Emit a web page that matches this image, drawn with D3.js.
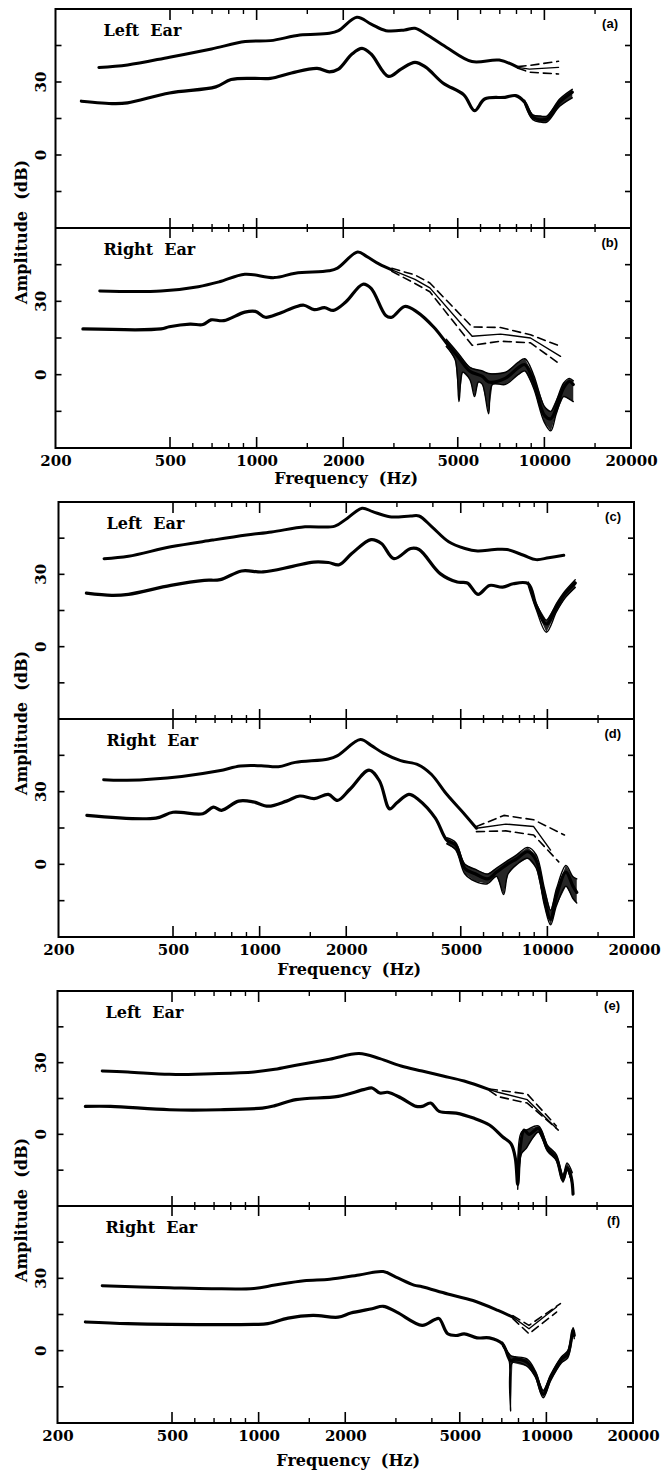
<!DOCTYPE html>
<html><head><meta charset="utf-8">
<script src="https://cdn.jsdelivr.net/npm/d3@7"></script>
<style>body{margin:0;background:#fff} svg{display:block} text{white-space:pre}</style>
</head><body><svg id="c" width="661" height="1473"></svg>
<script>
// ---------- axis values ----------
const xLabelTicks = [200, 500, 1000, 2000, 5000, 10000, 20000];
const xMajorTicks = [500, 1000, 2000, 5000, 10000];
const xMinorTicks = [600, 700, 800, 900, 1500, 3000, 4000, 6000, 7000, 8000, 9000, 15000];
const yTicks = [45, 30, 15, 0, -15];
const yLabelTicks = [30, 0];
const yDomain = [-30, 60];
const panelTags = ['(a)', '(b)', '(c)', '(d)', '(e)', '(f)'];
const earNames = ['Left  Ear', 'Right  Ear', 'Left  Ear', 'Right  Ear', 'Left  Ear', 'Right  Ear'];
const xTitle = 'Frequency  (Hz)';
const yTitle = 'Amplitude  (dB)';

// ---------- series: [frequency Hz, amplitude dB] ----------
// (a)
const a_upper = [[283,36],[356,37],[498,40.2],[697,43.6],[913,46.6],[1117,47],[1414,49.3],[1790,50],[1925,51.1],[2230,56.6],[2500,53.8],[2815,51.1],[3270,51.4],[3550,52.1],[3870,49.7],[4560,44.3],[5600,38.4],[6970,39],[8100,36]];
const a_upperMean = [[8100,36],[8870,35.3],[11200,36]];
const a_upperHi = [[8100,36.3],[8870,36.8],[11200,38.5]];
const a_upperLo = [[8100,35.7],[8870,34],[11200,33.3]];
const a_lower = [[246,22.1],[320,21.1],[356,21.4],[498,25.5],[721,28],[815,31],[978,31.5],[1117,31.5],[1322,33.7],[1623,35.6],[1790,34.2],[1925,35.3],[2145,41.5],[2324,43.8],[2500,41.5],[2870,32.3],[3175,35.3],[3550,38.1],[3870,36.1],[4440,29.6],[5250,24.7],[5720,18.2],[6200,23],[7300,23.7],[7950,24.4],[8540,21.7],[9120,15.5],[10200,14.8],[11300,21.7],[12500,25.8]];
const a_lowerHi = [[8540,22.5],[9120,16.5],[9700,16],[10200,16],[11300,23],[12500,27]];
const a_lowerLo = [[8540,21],[9120,14.5],[9700,13.5],[10200,13.5],[11300,20],[12500,23.5]];
// (b)
const b_upper = [[285,34.2],[465,34.2],[627,36],[743,38],[910,41.1],[1151,39.7],[1362,41.5],[1783,42.5],[1910,43.6],[2243,50.2],[2410,48.4],[2670,45.2],[2950,42.9]];
const b_upperMean = [[2950,42.9],[3550,39],[4000,35.5],[5610,15.7],[7040,16.6],[8950,15],[11380,7.5]];
const b_upperHi = [[2950,43.5],[3550,40.8],[4000,37.5],[5610,19.5],[7040,19.3],[8950,16.3],[11380,11.6]];
const b_upperLo = [[2950,42.3],[3550,37.3],[4000,33.9],[5610,12],[7040,13.7],[8950,13],[11380,4.1]];
const b_lower = [[249,18.7],[465,18.7],[497,19.6],[587,20.7],[651,20.5],[694,22.4],[769,22.1],[910,25.6],[990,25.9],[1072,23.5],[1190,24.9],[1362,27.7],[1460,28.4],[1585,26.6],[1720,27.4],[1850,26.3],[2040,29.7],[2340,37],[2500,35.3],[2810,24.2],[2950,23.5],[3270,27.9],[3615,25.6],[4130,19.4],[4560,13.1],[5040,6.9],[5510,1.4],[6090,-0.7],[6400,-3],[7330,-1.4],[8100,2.8],[8560,4.1],[9170,-2.8],[10000,-16.6],[10530,-18],[11650,-5.5],[12200,-2.8],[12600,-4]];
const b_lowerHi = [[4560,14.5],[5040,8.5],[5510,3],[6090,1.5],[6400,0.5],[7330,1],[8100,5],[8560,6.5],[9170,0],[10000,-13],[10530,-15],[11650,-3.5],[12200,-1.5],[12600,-2.5]];
const b_lowerLo = [[4560,11.5],[4900,6],[5050,-11],[5200,1],[5510,-2],[5720,-9],[5900,-3],[6090,-4],[6400,-16],[6600,-4],[7330,-4],[8100,0],[8560,1.5],[9170,-5.5],[10000,-19.5],[10530,-23],[11000,-16],[11650,-9],[12200,-10],[12600,-11]];
// (c)
const c_upper = [[288,36.5],[350,37.5],[491,41.4],[687,44.2],[900,46.3],[1101,47.6],[1438,49.7],[1826,50],[2013,53.2],[2270,57.4],[2470,56],[2830,53.9],[3350,54.2],[3580,54.2],[3970,49.7],[4540,43.5],[5170,40.7],[5720,39.7],[6550,40.3],[7240,40.3],[8270,37.9],[9140,36.1],[10100,36.9],[11400,37.9]];
const c_lower = [[250,22.2],[306,21.3],[350,21.7],[491,25.4],[642,27.5],[730,27.8],[866,31.4],[1028,31],[1301,33.3],[1541,35.1],[1733,34.9],[1890,34],[2090,38.6],[2440,44.4],[2650,42.8],[2930,36.5],[3350,40.7],[3580,40.3],[4240,30.3],[4860,26.8],[5270,26.4],[5740,21.7],[6290,25.4],[6990,24.7],[7610,26.1],[8580,26.1],[9140,17.1],[9920,9.4],[10760,16.4],[11500,21.9],[12500,26.4]];
const c_lowerHi = [[8580,26.8],[9140,18],[9920,11],[10760,18],[11500,23],[12500,27.8]];
const c_lowerLo = [[8580,25.3],[9140,15.5],[9920,6],[10760,14.5],[11500,20],[12500,24.5]];
// (d)
const d_upper = [[287,34.9],[346,34.7],[536,36.3],[723,38.6],[857,40.6],[1013,40.7],[1162,40.3],[1330,42.1],[1733,43.5],[1866,44.9],[2240,51.5],[2440,49.1],[2690,45.9],[3090,42.8],[3560,41.1],[3950,37.2],[4470,28.9],[5170,20.5],[5670,14.9]];
const d_upperMean = [[5670,14.9],[7170,16.6],[8960,15.6],[10260,5.9]];
const d_upperHi = [[5670,15.6],[7060,20.2],[8960,18.4],[11460,12.1]];
const d_upperLo = [[5670,13.5],[7170,13.8],[8960,12.1],[10950,1]];
const d_lower = [[251,20.2],[436,19.1],[500,21.5],[635,20.9],[690,23.6],[737,22.3],[845,26.1],[950,25.8],[1072,24],[1240,26.1],[1379,28.2],[1548,27.1],[1733,28.9],[1866,26.4],[2060,31],[2400,38.9],[2610,34.4],[2830,22.9],[3000,25.4],[3300,28.9],[3560,26.8],[4080,19.1],[4470,10],[4800,8],[5170,-1.8],[5610,-3.9],[6190,-6],[6660,-3.2],[7170,-0.4],[7840,2.4],[8540,5.2],[9140,1.7],[9770,-14.4],[10260,-22.7],[10760,-13],[11600,-3.2],[12250,-8.8],[12650,-11.6]];
const d_lowerHi = [[4470,11],[4800,9],[5170,0],[5610,-2],[6190,-4],[6660,-1.5],[7170,1],[7840,4],[8540,7],[9140,4],[9770,-10],[10260,-19],[10760,-10],[11600,-0.5],[12250,-5],[12650,-6]];
const d_lowerLo = [[4470,8.5],[4800,6],[5170,-4],[5610,-7],[6190,-8],[6660,-5],[7040,-12.5],[7300,-4],[7840,0],[8540,2.5],[9140,-1.5],[9770,-17],[10260,-25],[10760,-17],[11600,-9],[12250,-14],[12650,-16]];
// (e)
const e_upper = [[286,26.5],[351,26.1],[490,25.1],[687,25.4],[963,26.1],[1139,27.2],[1348,28.9],[1766,31.4],[2233,33.8],[2637,31.7],[3128,28.6],[3700,26.5],[4377,24.4],[5178,22.3],[6340,18.7]];
const e_upperMean = [[6340,18.7],[6790,17.6],[8580,14.5],[10830,2.5]];
const e_upperHi = [[6340,19],[6790,18.5],[8580,16.9],[10830,3.5]];
const e_upperLo = [[6340,18.3],[6790,15.8],[8580,13.1],[11000,1.8]];
const e_lower = [[250,11.7],[306,11.7],[490,10.3],[737,10.3],[1030,11],[1139,12],[1348,14.5],[1890,15.9],[2317,18.7],[2480,19.4],[2637,17.3],[2810,17.6],[3128,15.2],[3530,11.7],[3700,11.7],[3960,13.1],[4240,9.6],[4860,8.9],[5580,6.8],[6340,3.9],[7040,-1],[7540,-4],[7800,-10],[7950,-21],[8100,-6],[8370,1.8],[8700,0],[9380,2.5],[9800,-2],[10080,-6],[10830,-10],[11420,-19],[11800,-14],[12200,-18],[12380,-25]];
const e_lowerHi = [[7950,-14],[8200,1],[8580,2],[9380,3.5],[10080,-4.5],[10830,-8.5],[11420,-17],[11800,-12],[12300,-16]];
const e_lowerLo = [[7950,-23],[8200,-8],[8500,-6],[8800,-3],[9380,1],[10080,-7],[10830,-11],[11420,-20],[11800,-15],[12300,-21]];
// (f)
const f_upper = [[286,26.9],[490,26.1],[687,25.7],[963,25.8],[1139,27.2],[1438,29],[1766,29.6],[2233,31.4],[2710,32.8],[3000,30.5],[3465,27.2],[3700,26.5],[4540,23.5],[5560,20.8],[6790,16.7],[7650,13.9]];
const f_upperMean = [[7650,13.9],[8700,9.1],[10850,18.1]];
const f_upperHi = [[7650,14.5],[8700,10.5],[11190,19.5]];
const f_upperLo = [[7650,13.3],[8700,7],[10850,16]];
const f_lower = [[250,11.9],[351,11.2],[490,10.9],[963,10.9],[1076,11.2],[1266,13.5],[1545,14.6],[1890,13.9],[2090,15.6],[2480,17.4],[2710,18.4],[3020,16],[3700,10.5],[4080,12.8],[4240,13.3],[4540,7],[4860,6.3],[5180,7],[5740,5.3],[6340,5.3],[7040,2.8],[7510,-4.2],[7780,-3.5],[8580,-4.9],[9160,-9.8],[9750,-18.1],[10340,-11.2],[11290,-3.5],[11870,-1.4],[12380,8.4],[12500,6.3]];
const f_lowerHi = [[7040,3.5],[7510,-2],[7780,-2.5],[8580,-3.5],[9160,-8.5],[9750,-16.5],[10340,-10],[11290,-2.5],[11870,0],[12380,9.5],[12500,7.5]];
const f_lowerLo = [[7040,2],[7400,-3],[7510,-25],[7620,-5],[8580,-6.5],[9160,-11],[9750,-19.5],[10340,-12.5],[11290,-5],[11870,-3],[12380,7],[12500,5]];

// ---------- layout ----------
const groups = [
  {left: 55.5, right: 631, top: 9, mid: 228, bottom: 448, titleDy: 36},
  {left: 58.5, right: 634, top: 502, mid: 719, bottom: 937, titleDy: 38},
  {left: 57.5, right: 633, top: 991, mid: 1206, bottom: 1423, titleDy: 43}
];
const panels = [
  {g:0, top:true,  upper:a_upper, mean:a_upperMean, hi:a_upperHi, lo:a_upperLo, lower:a_lower, lHi:a_lowerHi, lLo:a_lowerLo},
  {g:0, top:false, upper:b_upper, mean:b_upperMean, hi:b_upperHi, lo:b_upperLo, lower:b_lower, lHi:b_lowerHi, lLo:b_lowerLo},
  {g:1, top:true,  upper:c_upper, mean:null, hi:null, lo:null, lower:c_lower, lHi:c_lowerHi, lLo:c_lowerLo},
  {g:1, top:false, upper:d_upper, mean:d_upperMean, hi:d_upperHi, lo:d_upperLo, lower:d_lower, lHi:d_lowerHi, lLo:d_lowerLo},
  {g:2, top:true,  upper:e_upper, mean:e_upperMean, hi:e_upperHi, lo:e_upperLo, lower:e_lower, lHi:e_lowerHi, lLo:e_lowerLo},
  {g:2, top:false, upper:f_upper, mean:f_upperMean, hi:f_upperHi, lo:f_upperLo, lower:f_lower, lHi:f_lowerHi, lLo:f_lowerLo}
];

const svg = d3.select('#c');
svg.append('rect').attr('width', 661).attr('height', 1473).attr('fill', '#fff');
const serif = '"DejaVu Serif", serif';

groups.forEach((G, gi) => {
  const x = d3.scaleLog().domain([200, 20000]).range([G.left, G.right]);
  const gg = svg.append('g');
  const ax = d3.axisBottom(x).tickValues(xLabelTicks).tickSize(0).tickPadding(7)
    .tickFormat(d3.format('d'));
  const axg = gg.append('g').attr('transform', `translate(0,${G.bottom})`).call(ax);
  axg.select('.domain').remove();
  axg.selectAll('text').attr('font-family', serif).attr('font-weight', 'bold')
    .attr('font-size', 15).attr('fill', '#000');
  gg.append('text').attr('x', (G.left + G.right) / 2 + 3).attr('y', G.bottom + G.titleDy)
    .attr('text-anchor', 'middle').attr('font-family', serif).attr('font-weight', 'bold')
    .attr('font-size', 16).text(xTitle);
  gg.append('text').attr('transform', `translate(27,${G.mid + 4}) rotate(-90)`)
    .attr('text-anchor', 'middle').attr('font-family', serif).attr('font-weight', 'bold')
    .attr('font-size', 16).text(yTitle);

  const tickLine = (vals, y1f, y2f, w) => gg.append('g').selectAll('line').data(vals).join('line')
    .attr('x1', d => x(d)).attr('x2', d => x(d)).attr('y1', y1f).attr('y2', y2f)
    .attr('stroke', '#000').attr('stroke-width', w);
  tickLine(xMajorTicks, G.top, G.top + 11, 1.6);
  tickLine(xMinorTicks, G.top, G.top + 5, 1.4);
  tickLine(xMajorTicks, G.mid - 10, G.mid + 10, 1.6);
  tickLine(xMinorTicks, G.mid - 4, G.mid + 4, 1.4);
  tickLine(xMajorTicks, G.bottom - 11, G.bottom, 1.6);
  tickLine(xMinorTicks, G.bottom - 5, G.bottom, 1.4);
});

panels.forEach((P, pi) => {
  const G = groups[P.g];
  const x = d3.scaleLog().domain([200, 20000]).range([G.left, G.right]);
  const y0 = P.top ? G.top : G.mid, y1 = P.top ? G.mid : G.bottom;
  const y = d3.scaleLinear().domain(yDomain).range([y1, y0]);
  const g = svg.append('g');

  g.append('g').selectAll('line').data(yTicks).join('line')
    .attr('x1', G.left).attr('x2', G.left + 6).attr('y1', d => y(d)).attr('y2', d => y(d))
    .attr('stroke', '#000').attr('stroke-width', 1.6);
  g.append('g').selectAll('line').data(yTicks).join('line')
    .attr('x1', G.right - 6).attr('x2', G.right).attr('y1', d => y(d)).attr('y2', d => y(d))
    .attr('stroke', '#000').attr('stroke-width', 1.6);
  g.append('g').selectAll('text').data(yLabelTicks).join('text')
    .attr('transform', d => `translate(46,${y(d)}) rotate(-90)`)
    .attr('text-anchor', 'middle').attr('font-family', serif).attr('font-weight', 'bold')
    .attr('font-size', 15).text(d => d);

  g.append('text').attr('x', G.left + 48).attr('y', y0 + 27)
    .attr('font-family', serif).attr('font-weight', 'bold').attr('font-size', 16)
    .text(earNames[pi]);
  g.append('text').attr('x', G.right - 13).attr('y', y0 + 19).attr('text-anchor', 'end')
    .attr('font-family', '"Liberation Sans", Arial, sans-serif').attr('font-weight', 'bold')
    .attr('font-size', 13).text(panelTags[pi]);

  const smooth = d3.line().x(d => x(d[0])).y(d => y(d[1])).curve(d3.curveCatmullRom.alpha(0.5));
  const straight = d3.line().x(d => x(d[0])).y(d => y(d[1]));
  const draw = (data, gen, w, dash) => {
    if (!data) return;
    g.append('path').datum(data).attr('d', gen).attr('fill', 'none')
      .attr('stroke', '#000').attr('stroke-width', w).attr('stroke-linejoin', 'round')
      .attr('stroke-linecap', 'round').attr('stroke-dasharray', dash || null);
  };
  if (P.lHi && P.lLo) {
    const band = d3.line().x(d => x(d[0])).y(d => y(d[1])).curve(d3.curveLinearClosed);
    g.append('path').datum(P.lHi.concat(P.lLo.slice().reverse())).attr('d', band)
      .attr('fill', '#000').attr('fill-opacity', 0.85).attr('stroke', 'none');
  }
  draw(P.lLo, smooth, 1.4);
  draw(P.lHi, smooth, 1.4);
  draw(P.lower, smooth, 3.2);
  draw(P.upper, smooth, 3);
  draw(P.mean, straight, 1.4);
  draw(P.hi, straight, 1.6, '8,5');
  draw(P.lo, straight, 1.6, '8,5');
});

groups.forEach(G => {
  svg.append('rect').attr('x', G.left).attr('y', G.top).attr('width', G.right - G.left)
    .attr('height', G.bottom - G.top).attr('fill', 'none').attr('stroke', '#000').attr('stroke-width', 2);
  svg.append('line').attr('x1', G.left).attr('x2', G.right).attr('y1', G.mid).attr('y2', G.mid)
    .attr('stroke', '#000').attr('stroke-width', 2);
});
</script>
</body></html>
